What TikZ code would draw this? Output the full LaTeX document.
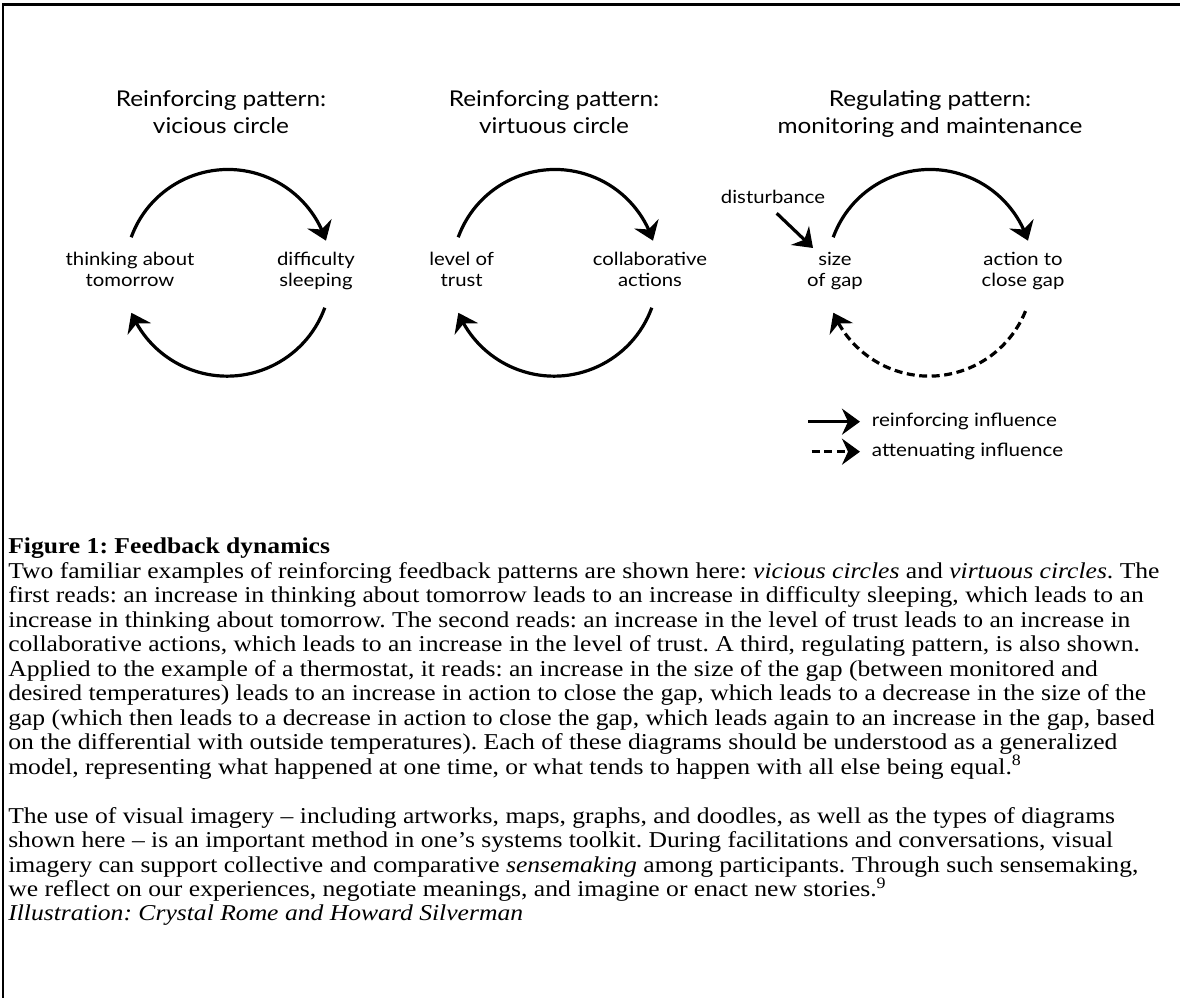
\documentclass[tikz,border=0pt]{standalone}
\usepackage{fontspec}
\setmainfont{Liberation Serif}
\newfontfamily\capfont[FakeStretch=1.13]{Liberation Serif}
\newfontfamily\diafont[FakeStretch=1.12]{Lato}
\usetikzlibrary{arrows.meta,bending,calc}
\frenchspacing
\begin{document}
\begin{tikzpicture}[x=0.75pt,y=0.75pt,
  titletxt/.style={font=\diafont\fontsize{16.3}{20.25}\selectfont, align=center, anchor=base, inner sep=0pt},
  labtxt/.style={font=\diafont\fontsize{13.6}{15.75}\selectfont, align=center, anchor=base, inner sep=0pt},
  legtxt/.style={font=\diafont\fontsize{13.8}{15.75}\selectfont, anchor=base west, inner sep=0pt},
  captxt/.style={font=\capfont\fontsize{17}{18.35}\selectfont\frenchspacing, align=left, anchor=base west, inner sep=0pt},
  solidarr/.style={line width=2.4pt, -{Stealth[length=13.5pt,width=19.5pt,inset=4.5pt]}},
  dasharr/.style={solidarr, dash pattern=on 6pt off 3.4pt},
]
\useasboundingbox (0,0) rectangle (1180,998);
% frame
\draw[line width=2.25pt] (2,993) -- (1180,993);
\draw[line width=1.5pt] (3,993) -- (3,0);

% titles (anchor = baseline of last line)
\node[titletxt] (t1) at (221,864.7) {Reinforcing pattern:\\vicious circle};
\node[titletxt] (t2) at (554,864.7) {Reinforcing pattern:\\virtuous circle};
\node[titletxt] (t3) at (930,864.7) {Regulating pattern:\\monitoring and maintenance};

% labels
\node[labtxt] (n1) at (130,711.3) {thinking about\\tomorrow};
\node[labtxt] (n2) at (316,711.3) {difficulty\\sleeping};
\node[labtxt] (n3) at (461.7,711.3) {level of\\trust};
\node[labtxt] (n4) at (650,711.3) {collaborative\\actions};
\node[labtxt] (n5) at (835,711.3) {size\\of gap};
\node[labtxt] (n6) at (1023,711.3) {action to\\close gap};
\node[labtxt] (n7) at (773,794) {disturbance};

% circle centres
\coordinate (c1) at (228,725.5);
\coordinate (c2) at (555,725.5);
\coordinate (c3) at (930,725.5);

% loop 1
\coordinate (a1s) at ($(c1)+(160:103)$);
\coordinate (b1s) at ($(c1)+(-20:103)$);
\draw[solidarr] (a1s) arc[start angle=160,end angle=18,radius=103];
\draw[solidarr] (b1s) arc[start angle=-20,end angle=-157,radius=104];

% loop 2
\coordinate (a2s) at ($(c2)+(160:103)$);
\coordinate (b2s) at ($(c2)+(-20:103)$);
\draw[solidarr] (a2s) arc[start angle=160,end angle=18,radius=103];
\draw[solidarr] (b2s) arc[start angle=-20,end angle=-157,radius=104];

% loop 3
\coordinate (a3s) at ($(c3)+(160:103)$);
\coordinate (b3s) at ($(c3)+(-22:103)$);
\draw[solidarr] (a3s) arc[start angle=160,end angle=18,radius=103];
\draw[dasharr] (b3s) arc[start angle=-22,end angle=-157,radius=104];

% disturbance
\coordinate (ds) at (776.7,784.7);
\coordinate (dt) at (813,750);
\draw[solidarr] (ds) -- (dt);

% legend
\coordinate (l1s) at (808,576.3);
\coordinate (l1e) at (860,576.3);
\draw[solidarr] (l1s) -- (l1e);
\node[legtxt] (lt1) at (871.7,571.3) {reinforcing influence};
\coordinate (l2s) at (811.7,546.3);
\coordinate (l2e) at (860,546.3);
\draw[dasharr] (l2s) -- (l2e);
\node[legtxt] (lt2) at (871.7,541.3) {attenuating influence};

% caption (anchor = baseline of last line)
\node[captxt] (p1) at (8,223.8) {\textbf{Figure 1: Feedback dynamics}\\
Two familiar examples of reinforcing feedback patterns are shown here: \textit{vicious circles} and \textit{virtuous circles}. The\\
first reads: an increase in thinking about tomorrow leads to an increase in difficulty sleeping, which leads to an\\
increase in thinking about tomorrow. The second reads: an increase in the level of trust leads to an increase in\\
collaborative actions, which leads to an increase in the level of trust. A third, regulating pattern, is also shown.\\
Applied to the example of a thermostat, it reads: an increase in the size of the gap (between monitored and\\
desired temperatures) leads to an increase in action to close the gap, which leads to a decrease in the size of the\\
gap (which then leads to a decrease in action to close the gap, which leads again to an increase in the gap, based\\
on the differential with outside temperatures). Each of these diagrams should be understood as a generalized\\
model, representing what happened at one time, or what tends to happen with all else being equal.\textsuperscript{8}};
\node[captxt] (p2) at (8,77) {The use of visual imagery – including artworks, maps, graphs, and doodles, as well as the types of diagrams\\
shown here – is an important method in one’s systems toolkit. During facilitations and conversations, visual\\
imagery can support collective and comparative \textit{sensemaking} among participants. Through such sensemaking,\\
we reflect on our experiences, negotiate meanings, and imagine or enact new stories.\textsuperscript{9}\\
\textit{Illustration: Crystal Rome and Howard Silverman}};
\end{tikzpicture}
\end{document}
